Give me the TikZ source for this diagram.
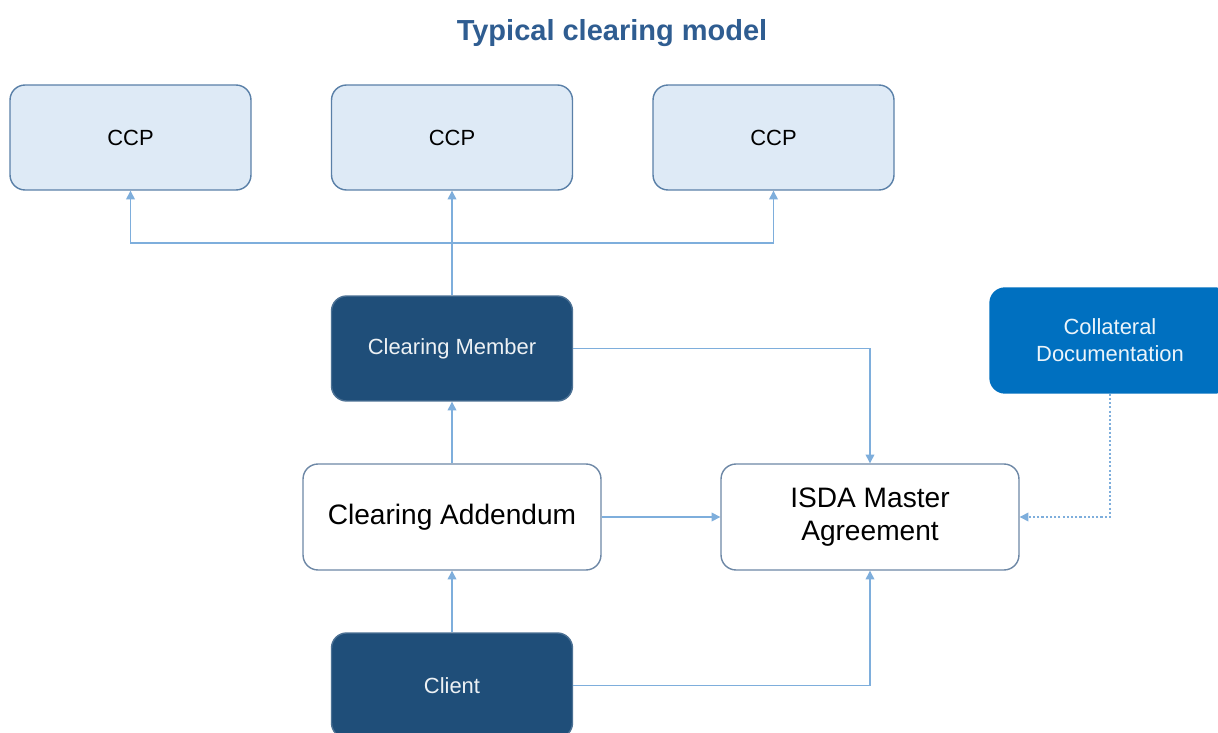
\documentclass[tikz,border=0pt]{standalone}
\usepackage{fontspec}
\setmainfont{Liberation Sans}
\usetikzlibrary{arrows.meta}
\definecolor{navy}{HTML}{1F4E79}
\definecolor{collblue}{HTML}{0070C0}
\definecolor{ccpfill}{HTML}{DEEAF6}
\definecolor{ccpline}{HTML}{5A80A8}
\definecolor{wline}{HTML}{6E88A6}
\definecolor{conncol}{HTML}{7EAEDC}
\definecolor{titlecol}{HTML}{2F5D91}
\tikzset{
  base/.style={rounded corners=0.3cm, line width=0.8pt, align=center, inner sep=0pt},
  ccpbox/.style={base, draw=ccpline, fill=ccpfill, minimum width=4.82cm, minimum height=2.1cm, font=\fontsize{12.5}{15}\selectfont},
  navybox/.style={base, draw=navy!80, fill=navy, text=white!92!navy, minimum width=4.82cm, minimum height=2.1cm, font=\fontsize{12.5}{15}\selectfont},
  collbox/.style={base, draw=collblue, fill=collblue, text=white!92!collblue, minimum width=4.8cm, minimum height=2.1cm, font=\fontsize{12.5}{15.3}\selectfont},
  docbox/.style={base, draw=wline, fill=white, minimum width=5.96cm, minimum height=2.12cm, font=\fontsize{16}{19}\selectfont},
  conn/.style={draw=conncol, line width=0.75pt, -{Triangle[length=5pt,width=5pt]}},
  dotconn/.style={conn, dash pattern=on 1.2pt off 1.2pt},
}
\begin{document}
\begin{tikzpicture}[x=0.02cm,y=-0.02cm]
\clip (0,0) rectangle (1218,733);
\fill[white] (0,0) rectangle (1218,733);
\node[font=\bfseries\fontsize{16.5}{20}\selectfont, text=titlecol] (title) at (612,33) {Typical clearing model};
\node[ccpbox] (ccp1) at (130.5,137.5) {CCP};
\node[ccpbox] (ccp2) at (452,137.5) {CCP};
\node[ccpbox] (ccp3) at (773.5,137.5) {CCP};
\node[navybox] (cm) at (452,348.5) {\raisebox{-2.5pt}{Clearing Member}};
\node[collbox] (coll) at (1110,340.5) {Collateral\\Documentation};
\node[docbox] (ca) at (452,517) {\raisebox{-3pt}{Clearing Addendum}};
\node[docbox] (isda) at (870,517) {ISDA Master\\Agreement};
\node[navybox] (client) at (452,685.5) {Client};
\coordinate (bus) at (452,243);
\draw[conn] (cm.north) -- (ccp2.south);
\draw[conn] (bus) -| (ccp1.south);
\draw[conn] (bus) -| (ccp3.south);
\draw[conn] (cm.east) -| (isda.north);
\draw[conn] (ca.north) -- (cm.south);
\draw[conn] (ca.east) -- (isda.west);
\draw[conn] (client.north) -- (ca.south);
\draw[conn] (client.east) -| (isda.south);
\draw[dotconn] (coll.south) |- (isda.east);
\end{tikzpicture}
\end{document}
